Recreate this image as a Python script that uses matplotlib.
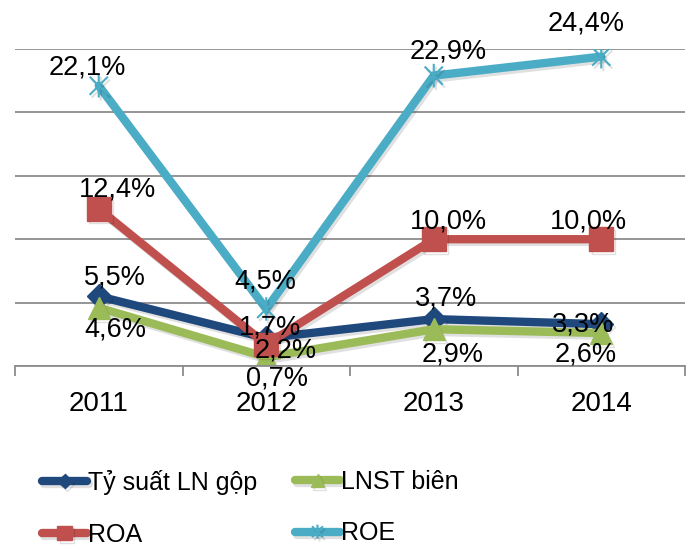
import matplotlib

matplotlib.use("Agg")

import matplotlib.pyplot as plt
import matplotlib.patheffects as pe
from matplotlib.path import Path

plt.rcParams["font.family"] = ["Liberation Sans", "DejaVu Sans"]

years = ["2011", "2012", "2013", "2014"]
gross_margin = [5.5, 2.2, 3.7, 3.3]   # Tỷ suất LN gộp
net_margin = [4.6, 0.7, 2.9, 2.6]     # LNST biên
roa = [12.4, 1.7, 10.0, 10.0]
roe = [22.1, 4.5, 22.9, 24.4]
series_names = ["Tỷ suất LN gộp", "LNST biên", "ROA", "ROE"]

# label offsets (pixels) as placed in the original
label_offsets = [
    [(16, 19), (19, -12), (12, 21), (-18, 0)],
    [(17, -22), (11, -21), (19, -25), (-16, -21)],
    [(19, 19), (4, 17), (15, 18), (-13, 18)],
    [(-11, 18), (-1, 27), (14, 24), (-15, 33)],
]

# Excel-like star marker: X plus vertical bar
star = Path(
    [(-1, -1), (1, 1), (-1, 1), (1, -1), (0, -1.3), (0, 1.3)],
    [Path.MOVETO, Path.LINETO, Path.MOVETO, Path.LINETO, Path.MOVETO, Path.LINETO],
)

styles = [
    dict(color="#1F497D", marker="D", ms=12),
    dict(color="#9BBB59", marker="^", ms=16),
    dict(color="#C0504D", marker="s", ms=17),
    dict(color="#4BACC6", marker=star, ms=17, mew=1.5),
]

fig = plt.figure(figsize=(6.93, 5.5), dpi=100)
ax = fig.add_axes([15 / 693, 1 - 366 / 550, 670 / 693, 317 / 550])

shadow = [pe.SimpleLineShadow(offset=(1.5, -2), alpha=0.12), pe.Normal()]

x = range(len(years))
handles = []
for name, vals, st, offs in zip(series_names, [gross_margin, net_margin, roa, roe],
                                styles, label_offsets):
    line, = ax.plot(x, vals, color=st["color"], lw=6, marker=st["marker"], ms=st["ms"],
                    mec=st["color"], mfc=st["color"], mew=st.get("mew", 1),
                    solid_joinstyle="miter", solid_capstyle="round",
                    label=name, path_effects=shadow)
    handles.append(line)
    for xi, v, off in zip(x, vals, offs):
        ax.annotate(f"{v:.1f}%".replace(".", ","), (xi, v), xytext=off,
                    textcoords="offset pixels", ha="center", va="center",
                    fontsize=19.5, color="black", zorder=10)

ax.set_xlim(-0.5, 3.5)
ax.set_ylim(0, 25)
ax.set_yticks([0, 5, 10, 15, 20, 25])
ax.yaxis.grid(True, color="#8C8C8C", lw=1.3)
ax.set_axisbelow(True)
ax.tick_params(axis="y", left=False, labelleft=False)
for s in ["left", "right", "top"]:
    ax.spines[s].set_visible(False)
ax.spines["bottom"].set_color("#8C8C8C")
ax.spines["bottom"].set_linewidth(1.3)

ax.set_xticks([-0.5, 0.5, 1.5, 2.5, 3.5])
ax.set_xticklabels([])
ax.set_xticks(list(x), minor=True)
ax.set_xticklabels(years, minor=True, fontsize=20)
ax.tick_params(axis="x", which="major", length=7, width=1.3, color="#8C8C8C")
ax.tick_params(axis="x", which="minor", length=0, pad=18)

# two legend columns, rows: (Tỷ suất, LNST) / (ROA, ROE)
leg_kw = dict(loc="upper left", frameon=False, fontsize=18, handlelength=1.8,
              handletextpad=0.05, labelspacing=1.1, markerscale=0.6,
              borderpad=0, borderaxespad=0)
fig.legend([handles[0], handles[2]], [series_names[0], series_names[2]],
           bbox_to_anchor=(42 / 693, 1 - 470 / 550), **leg_kw)
fig.legend([handles[1], handles[3]], [series_names[1], series_names[3]],
           bbox_to_anchor=(295 / 693, 1 - 470 / 550), **leg_kw)

fig.savefig("out.png", dpi=100)
